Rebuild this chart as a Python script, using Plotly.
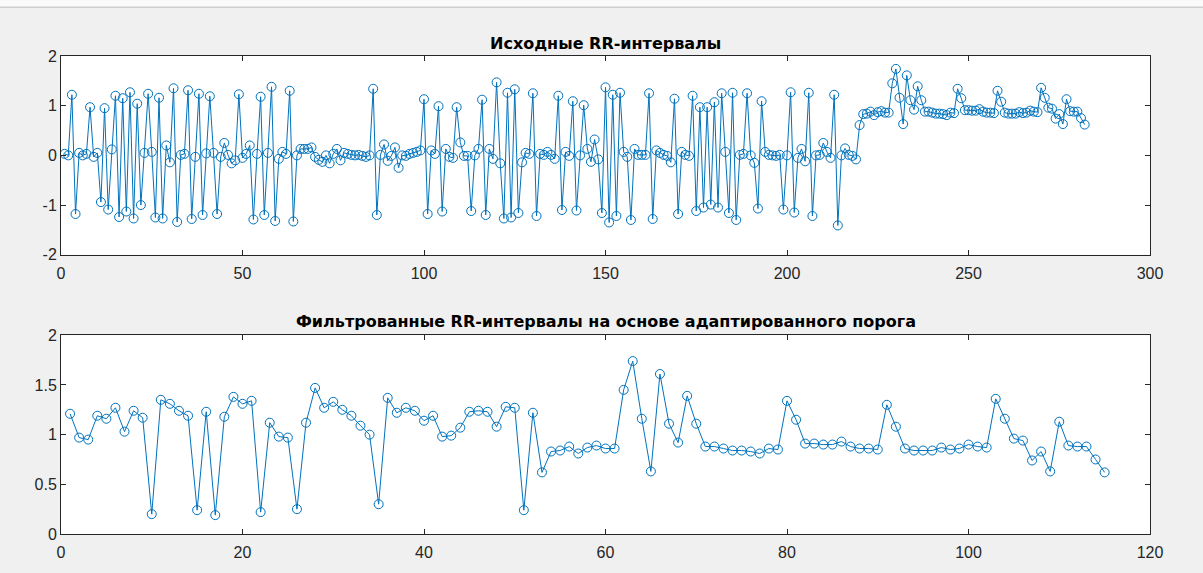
import plotly.graph_objects as go
from plotly.subplots import make_subplots

# ---- data ----
rr_raw = [
    0.03, 0.00, 1.22, -1.18, 0.05, 0.00, 0.03, 0.97, -0.03, 0.05,
    -0.94, 0.95, -1.09, 0.12, 1.20, -1.24, 1.15, -1.13, 1.27, -1.27,
    1.04, -1.00, 0.05, 1.24, 0.07, -1.25, 1.16, -1.27, 0.20, -0.14,
    1.35, -1.34, 0.01, 0.03, 1.31, -1.28, -0.03, 1.24, -1.20, 0.04,
    1.19, 0.05, -1.18, -0.03, 0.25, 0.01, -0.16, -0.10, 1.23, -0.05,
    0.03, 0.20, -1.29, 0.03, 1.18, -1.20, 0.05, 1.38, -1.32, -0.07,
    0.07, 0.03, 1.30, -1.33, 0.00, 0.13, 0.13, 0.13, 0.16, -0.03,
    -0.09, -0.13, 0.00, -0.16, 0.03, 0.13, -0.10, 0.05, 0.03, 0.01,
    0.00, 0.01, -0.01, -0.03, 0.00, 1.34, -1.20, 0.01, 0.22, -0.11,
    -0.01, 0.16, -0.25, 0.00, -0.01, 0.03, 0.05, 0.07, 0.10, 1.13,
    -1.18, 0.10, 0.03, 0.99, -1.13, 0.13, -0.03, -0.05, 0.97, 0.26,
    -0.01, -0.01, -1.12, 0.00, 0.13, 1.12, -1.20, 0.13, -0.07, 1.47,
    -0.16, -1.27, 1.26, -1.25, 1.33, -1.16, -0.14, 0.05, 0.03, 1.25,
    -1.22, 0.03, 0.01, 0.07, 0.01, -0.07, 1.20, -1.10, 0.07, -0.01,
    1.09, -1.11, 0.00, 1.01, 0.13, -0.13, 0.32, -0.08, -1.16, 1.37,
    -1.35, 1.22, -1.22, 1.26, 0.07, -0.03, -1.30, 0.13, 0.01, 0.01,
    0.01, 1.25, -1.28, 0.10, 0.05, 0.01, -0.01, -0.14, 1.14, -1.18,
    0.07, 0.01, -0.01, 1.20, -1.12, 0.97, -1.05, 0.97, -0.99, 1.07,
    -1.05, 1.25, 0.07, -1.16, 1.26, -1.30, 0.01, 0.03, 1.25, 0.00,
    -0.15, -1.07, 1.09, 0.07, 0.01, 0.00, -0.01, 0.01, -1.09, 0.00,
    1.27, -1.15, -0.05, 0.13, -0.12, 1.26, -1.22, 0.00, 0.01, 0.25,
    0.07, -0.05, 1.22, -1.41, 0.00, 0.14, 0.01, -0.01, -0.08, 0.61,
    0.83, 0.84, 0.88, 0.81, 0.87, 0.89, 0.86, 0.86, 1.45, 1.74,
    1.16, 0.63, 1.61, 1.11, 0.92, 1.39, 1.11, 0.88, 0.88, 0.86,
    0.84, 0.84, 0.83, 0.81, 0.86, 0.85, 1.34, 1.15, 0.91, 0.91,
    0.90, 0.90, 0.93, 0.88, 0.86, 0.86, 0.85, 1.30, 1.08, 0.86,
    0.84, 0.84, 0.84, 0.87, 0.85, 0.86, 0.90, 0.88, 0.87, 1.36,
    1.16, 0.96, 0.94, 0.74, 0.83, 0.63, 1.13, 0.89, 0.88, 0.88,
    0.75, 0.62,
]

rr_filtered = [
    1.21, 0.97, 0.95, 1.19, 1.16, 1.27, 1.03, 1.24, 1.17, 0.20,
    1.35, 1.31, 1.24, 1.19, 0.24, 1.23, 0.19, 1.18, 1.38, 1.31,
    1.34, 0.22, 1.12, 0.98, 0.97, 0.25, 1.12, 1.47, 1.27, 1.33,
    1.25, 1.19, 1.09, 1.00, 0.30, 1.37, 1.22, 1.27, 1.24, 1.14,
    1.19, 0.98, 0.99, 1.07, 1.23, 1.24, 1.23, 1.08, 1.28, 1.27,
    0.24, 1.22, 0.62, 0.83, 0.84, 0.88, 0.81, 0.87, 0.89, 0.86,
    0.86, 1.45, 1.74, 1.16, 0.63, 1.61, 1.11, 0.92, 1.39, 1.11,
    0.88, 0.88, 0.86, 0.84, 0.84, 0.83, 0.81, 0.86, 0.85, 1.34,
    1.15, 0.91, 0.91, 0.90, 0.90, 0.93, 0.88, 0.86, 0.86, 0.85,
    1.30, 1.08, 0.86, 0.84, 0.84, 0.84, 0.87, 0.85, 0.86, 0.90,
    0.88, 0.87, 1.36, 1.16, 0.96, 0.94, 0.74, 0.83, 0.63, 1.13,
    0.89, 0.88, 0.88, 0.75, 0.62,
]

title_raw = "Исходные RR-интервалы"
title_filt = "Фильтрованные RR-интервалы на основе адаптированного порога"

raw_yticks = [-2, -1, 0, 1, 2]
raw_yticktext = ["-2", "-1", "0", "1", "2"]
raw_xticks = [0, 50, 100, 150, 200, 250, 300]
filt_yticks = [0, 0.5, 1, 1.5, 2]
filt_yticktext = ["0", "0.5", "1", "1.5", "2"]
filt_xticks = [0, 20, 40, 60, 80, 100, 120]

x_raw = list(range(1, len(rr_raw) + 1))
x_filt = list(range(1, len(rr_filtered) + 1))

# ---- figure ----
W, H = 1203, 573
ML, MR, MT, MB = 61, 53, 56, 36
plot_h = H - MT - MB
top_dom = [(H - MB - 256) / plot_h, 1.0]
bot_dom = [0.0, (H - MB - 337) / plot_h]

BLUE = "#0072BD"
AX = "#262626"
FONT = "Liberation Sans, Arial, sans-serif"
TFONT = "DejaVu Sans, sans-serif"

fig = make_subplots(rows=2, cols=1)

marker = dict(symbol="circle-open", size=9, color=BLUE, line=dict(width=1, color=BLUE))
fig.add_trace(go.Scatter(x=x_raw, y=rr_raw, mode="lines+markers",
                         line=dict(color=BLUE, width=1), marker=marker,
                         showlegend=False), row=1, col=1)
fig.add_trace(go.Scatter(x=x_filt, y=rr_filtered, mode="lines+markers",
                         line=dict(color=BLUE, width=1), marker=marker,
                         showlegend=False), row=2, col=1)

axis_common = dict(showline=True, linecolor=AX, linewidth=1, mirror="ticks",
                   ticks="inside", ticklen=5, tickcolor=AX, tickwidth=1,
                   showgrid=False, zeroline=False,
                   tickfont=dict(family=FONT, size=16, color=AX))

fig.update_xaxes(axis_common, ticklabelstandoff=4)
fig.update_yaxes(axis_common)

fig.update_layout(
    xaxis=dict(range=[0, 300], tickvals=raw_xticks, domain=[0, 1]),
    yaxis=dict(range=[-2, 2], tickvals=raw_yticks, ticktext=raw_yticktext, domain=top_dom),
    xaxis2=dict(range=[0, 120], tickvals=filt_xticks, domain=[0, 1]),
    yaxis2=dict(range=[0, 2], tickvals=filt_yticks, ticktext=filt_yticktext, domain=bot_dom),
)

# title annotations
fig.add_annotation(text=f"<b>{title_raw}</b>", xref="paper", yref="paper",
                   x=0.5, y=1 + (MT - 43) / plot_h, xanchor="center", yanchor="middle",
                   showarrow=False, font=dict(family=TFONT, size=16, color="#000000"))
fig.add_annotation(text=f"<b>{title_filt}</b>", xref="paper", yref="paper",
                   x=0.5, y=(H - MB - 323) / plot_h, xanchor="center", yanchor="middle",
                   showarrow=False, font=dict(family=TFONT, size=16, color="#000000"))

# window strip at top
pw = W - ML - MR
fig.add_shape(type="rect", xref="paper", yref="paper",
              x0=-ML / pw, x1=1 + MR / pw,
              y0=1 + (MT - 6.5) / plot_h, y1=1 + MT / plot_h,
              fillcolor="#fafafa", line=dict(width=0), layer="below")
fig.add_shape(type="line", xref="paper", yref="paper",
              x0=-ML / pw, x1=1 + MR / pw,
              y0=1 + (MT - 7) / plot_h, y1=1 + (MT - 7) / plot_h,
              line=dict(color="#cfcfcf", width=1.5))

fig.update_layout(
    width=W, height=H,
    margin=dict(l=ML, r=MR, t=MT, b=MB),
    paper_bgcolor="#f0f0f0", plot_bgcolor="#ffffff",
    font=dict(family=FONT, color=AX),
)

fig.write_html("out.html", config={"displayModeBar": False},
               post_script="document.body.style.margin='0';")
